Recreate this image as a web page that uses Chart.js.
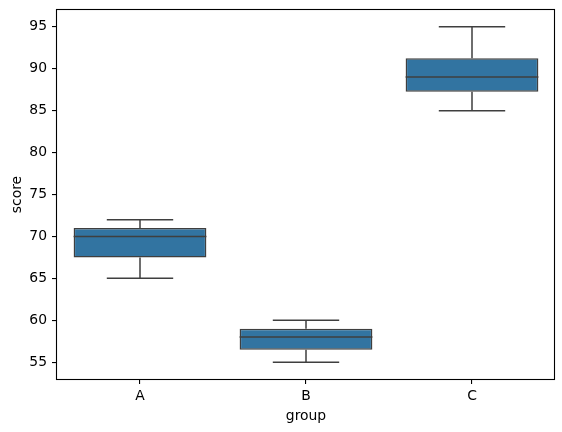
<!DOCTYPE html>
<html>
<head>
<meta charset="utf-8">
<title>score by group</title>
<script src="https://cdn.jsdelivr.net/npm/chart.js@4/dist/chart.umd.min.js"></script>
<style>
  html, body { margin: 0; padding: 0; background: #fff; }
  #wrap { width: 562px; height: 432px; }
</style>
</head>
<body>
<div id="wrap"><canvas id="boxChart" width="562" height="432"></canvas></div>
<script>
// values
const groups = ['A', 'B', 'C'];
const whiskerLow = [65, 55, 85];
const q1 = [67.5, 56.5, 87.25];
const median = [70, 58, 89];
const q3 = [71, 59, 91.25];
const whiskerHigh = [72, 60, 95];
const yTicks = [55, 60, 65, 70, 75, 80, 85, 90, 95];

const lineColor = '#3f3f3f';
const boxColor = '#3274a1';

// whiskers, caps and medians, placed with the chart's own scales
const whiskerPlugin = {
    id: 'whiskers',
    afterDatasetsDraw(chart) {
        const ctx = chart.ctx;
        const y = chart.scales.y;
        const bars = chart.getDatasetMeta(0).data;
        ctx.save();
        ctx.strokeStyle = lineColor;
        ctx.lineWidth = 1.5;
        bars.forEach(function (bar, i) {
            const cx = bar.x;
            const half = bar.width / 2;
            const cap = bar.width / 4;
            const yLow = y.getPixelForValue(whiskerLow[i]);
            const yHigh = y.getPixelForValue(whiskerHigh[i]);
            const yQ1 = y.getPixelForValue(q1[i]);
            const yQ3 = y.getPixelForValue(q3[i]);
            const yMed = y.getPixelForValue(median[i]);
            ctx.beginPath();
            ctx.moveTo(cx, yQ1); ctx.lineTo(cx, yLow);
            ctx.moveTo(cx, yQ3); ctx.lineTo(cx, yHigh);
            ctx.moveTo(cx - cap, yLow); ctx.lineTo(cx + cap, yLow);
            ctx.moveTo(cx - cap, yHigh); ctx.lineTo(cx + cap, yHigh);
            ctx.moveTo(cx - half, yMed); ctx.lineTo(cx + half, yMed);
            ctx.stroke();
        });
        ctx.restore();
    },
    afterDraw(chart) {
        const a = chart.chartArea;
        const ctx = chart.ctx;
        ctx.save();
        ctx.strokeStyle = '#000';
        ctx.lineWidth = 1.1;
        ctx.strokeRect(Math.round(a.left) - 0.5, Math.round(a.top) - 0.5,
            Math.round(a.right - a.left), Math.round(a.bottom - a.top) + 1);
        ctx.restore();
    }
};

Chart.defaults.font.family = '"DejaVu Sans", sans-serif';
Chart.defaults.font.size = 13.9;
Chart.defaults.color = '#000';

const ctx = document.getElementById('boxChart').getContext('2d');
new Chart(ctx, {
    type: 'bar',
    data: {
        labels: groups,
        datasets: [{
            label: 'score',
            data: groups.map(function (g, i) { return [q1[i], q3[i]]; }),
            backgroundColor: boxColor,
            borderColor: lineColor,
            borderWidth: 1.5,
            borderSkipped: false,
            barPercentage: 0.8,
            categoryPercentage: 1
        }]
    },
    options: {
        responsive: false,
        animation: false,
        devicePixelRatio: 1,
        layout: { padding: { top: 10, right: 7, left: 0, bottom: 0 } },
        plugins: { legend: { display: false }, tooltip: { enabled: false } },
        scales: {
            x: {
                grid: { offset: false, drawOnChartArea: false, drawTicks: true, tickLength: 5, color: '#000', lineWidth: 1.1 },
                border: { display: false },
                ticks: { padding: 4 },
                title: { display: true, text: 'group', padding: { top: 0, bottom: 7 } },
                afterFit: function (scale) {
                    scale.height = 53;
                    scale.paddingLeft = 0;
                    scale.paddingRight = 0;
                }
            },
            y: {
                min: 53,
                max: 97,
                afterBuildTicks: function (scale) {
                    scale.ticks = yTicks.map(function (v) { return { value: v }; });
                },
                grid: { drawOnChartArea: false, drawTicks: true, tickLength: 5, color: '#000', lineWidth: 1.1 },
                border: { display: false },
                ticks: { padding: 5 },
                title: { display: true, text: 'score', padding: { top: 9, bottom: 0 } },
                afterFit: function (scale) {
                    scale.width = 57;
                    scale.paddingTop = 0;
                    scale.paddingBottom = 0;
                }
            }
        }
    },
    plugins: [whiskerPlugin]
});
</script>
</body>
</html>
